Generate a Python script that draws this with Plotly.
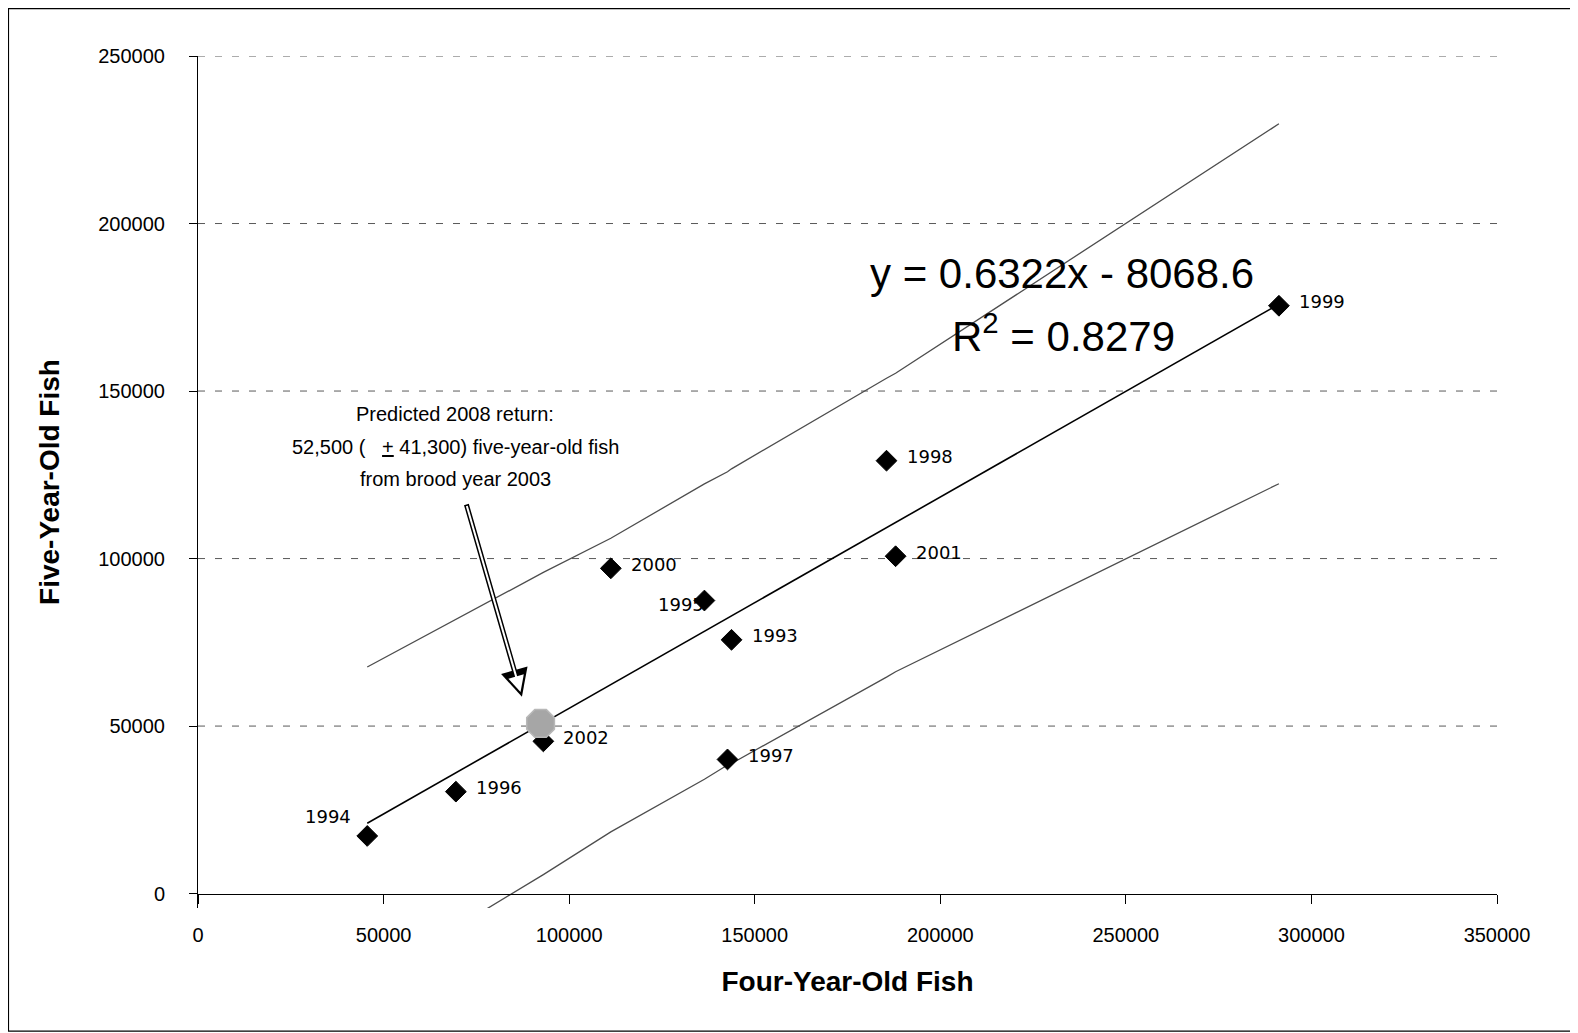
import plotly.graph_objects as go

# ---------------- data ----------------
years = ["1993", "1994", "1995", "1996", "1997", "1998", "1999", "2000", "2001", "2002"]
four_year_fish = [143750, 45600, 136450, 69480, 142670, 185510, 291240, 111230, 187960, 93050]
five_year_fish = [75750, 17200, 87470, 30430, 40040, 129210, 175450, 97080, 100690, 45440]
label_side = ["right", "left", "left", "right", "right", "right", "right", "right", "right", "right"]

band_x = [45600, 69480, 93050, 111230, 136450, 142670, 143750, 185510, 187960, 291240]
upper_band = [67640, 81750, 95860, 106070, 122280, 125890, 126780, 153810, 155310, 229760]
lower_band = [-26120, -10030, 5660, 18430, 34110, 38370, 38840, 64610, 66210, 122340]

trend_x = [45600, 291240]
trend_y = [21000, 175900]

pred_x = [92300]
pred_y = [50800]

x_ticks = [0, 50000, 100000, 150000, 200000, 250000, 300000, 350000]
y_ticks = [0, 50000, 100000, 150000, 200000, 250000]

equation_text = "y = 0.6322x - 8068.6"
r2_text = "R<sup>2</sup> = 0.8279"
pred_lines = ["Predicted 2008 return:",
              "52,500 (   <u>+</u> 41,300) five-year-old fish",
              "from brood year 2003"]

FONT = "Liberation Sans, Arial, sans-serif"
LABEL_FONT = "DejaVu Sans, Verdana, sans-serif"
Y_MIN = -4300
Y_MAX = 250000

fig = go.Figure()

# prediction bands
fig.add_trace(go.Scatter(x=band_x, y=upper_band, mode="lines",
                         line=dict(color="#4d4d4d", width=1.3), hoverinfo="skip"))
fig.add_trace(go.Scatter(x=band_x, y=lower_band, mode="lines",
                         line=dict(color="#4d4d4d", width=1.3), hoverinfo="skip"))
# regression line
fig.add_trace(go.Scatter(x=trend_x, y=trend_y, mode="lines",
                         line=dict(color="black", width=1.6), hoverinfo="skip"))
# observed points
fig.add_trace(go.Scatter(x=four_year_fish, y=five_year_fish, mode="markers",
                         marker=dict(symbol="diamond", size=16, color="black",
                                     line=dict(color="black", width=1))))
# predicted point
fig.add_trace(go.Scatter(x=pred_x, y=pred_y, mode="markers",
                         marker=dict(symbol="octagon", size=30, color="#a6a6a6",
                                     line=dict(color="#b8b8b8", width=1.5))))

annotations = []
for xv, yv, yr, side in zip(four_year_fish, five_year_fish, years, label_side):
    if side == "right":
        annotations.append(dict(x=xv, y=yv, text=yr, showarrow=False, xanchor="left",
                                yanchor="middle", xshift=18, yshift=4,
                                font=dict(family=LABEL_FONT, size=18, color="black")))
    else:
        annotations.append(dict(x=xv, y=yv, text=yr, showarrow=False, xanchor="right",
                                yanchor="middle", xshift=-14 if yv < 30000 else 2,
                                yshift=19 if yv < 30000 else -4,
                                font=dict(family=LABEL_FONT, size=18, color="black")))

annotations.append(dict(x=232700, y=185050, text=equation_text, showarrow=False,
                        xanchor="center", yanchor="middle",
                        font=dict(family=FONT, size=42, color="black")))
annotations.append(dict(x=233200, y=167330, text=r2_text, showarrow=False,
                        xanchor="center", yanchor="middle",
                        font=dict(family=FONT, size=42, color="black")))

for line_txt, yv in zip(pred_lines, [143020, 133410, 123810]):
    annotations.append(dict(x=69300, y=yv, text=line_txt, showarrow=False,
                            xanchor="center", yanchor="middle",
                            font=dict(family=FONT, size=20, color="black")))

# hollow block-style arrow: black outline with white core
annotations.append(dict(x=87280, y=58770, ax=72200, ay=116590, axref="x", ayref="y",
                        xref="x", yref="y", text="", showarrow=True, arrowhead=2,
                        arrowsize=1.1, arrowwidth=5, arrowcolor="black"))
annotations.append(dict(x=87280, y=58770, ax=72200, ay=116590, axref="x", ayref="y",
                        xref="x", yref="y", text="", showarrow=True, arrowhead=2,
                        arrowsize=1.6, arrowwidth=2, arrowcolor="white",
                        standoff=5, startstandoff=1.5))

# dashed horizontal gridlines (not at zero, where the x axis lies)
shapes = [dict(type="line", xref="paper", yref="y", x0=0, x1=1, y0=v, y1=v,
               line=dict(color="#5a5a5a", width=1, dash="7px,10px"), layer="below")
          for v in y_ticks[1:]]
# chart-area frame
shapes.append(dict(type="rect", xref="paper", yref="paper",
                   x0=-0.1459, x1=1.0590, y0=-0.1445, y1=1.0557,
                   line=dict(color="black", width=1.2), fillcolor="rgba(0,0,0,0)",
                   layer="below"))

fig.update_layout(
    width=1578, height=1033,
    margin=dict(l=190, r=89, t=48, b=133),
    paper_bgcolor="white", plot_bgcolor="white",
    showlegend=False,
    annotations=annotations,
    shapes=shapes,
    font=dict(family=FONT, color="black"),
)

fig.update_xaxes(
    range=[0, 350000], tickvals=x_ticks, ticktext=[str(v) for v in x_ticks],
    showgrid=False, zeroline=False, showline=True, linecolor="black", linewidth=1,
    ticks="outside", ticklen=9, tickcolor="black", tickwidth=1,
    tickfont=dict(family=FONT, size=20, color="black"), ticklabelstandoff=14,
    anchor="free", position=(0 - Y_MIN) / (Y_MAX - Y_MIN),
    title=dict(text="<b>Four-Year-Old Fish</b>", standoff=26,
               font=dict(family=FONT, size=28, color="black")),
)
fig.update_yaxes(
    range=[Y_MIN, Y_MAX], tickvals=y_ticks, ticktext=[str(v) for v in y_ticks],
    showgrid=False, zeroline=False, showline=True, linecolor="black", linewidth=1,
    ticks="outside", ticklen=8, tickcolor="black", tickwidth=1,
    tickfont=dict(family=FONT, size=20, color="black"), ticklabelstandoff=20,
    title=dict(text="<b>Five-Year-Old Fish</b>", standoff=30,
               font=dict(family=FONT, size=28, color="black")),
)

fig.write_html("out.html")
